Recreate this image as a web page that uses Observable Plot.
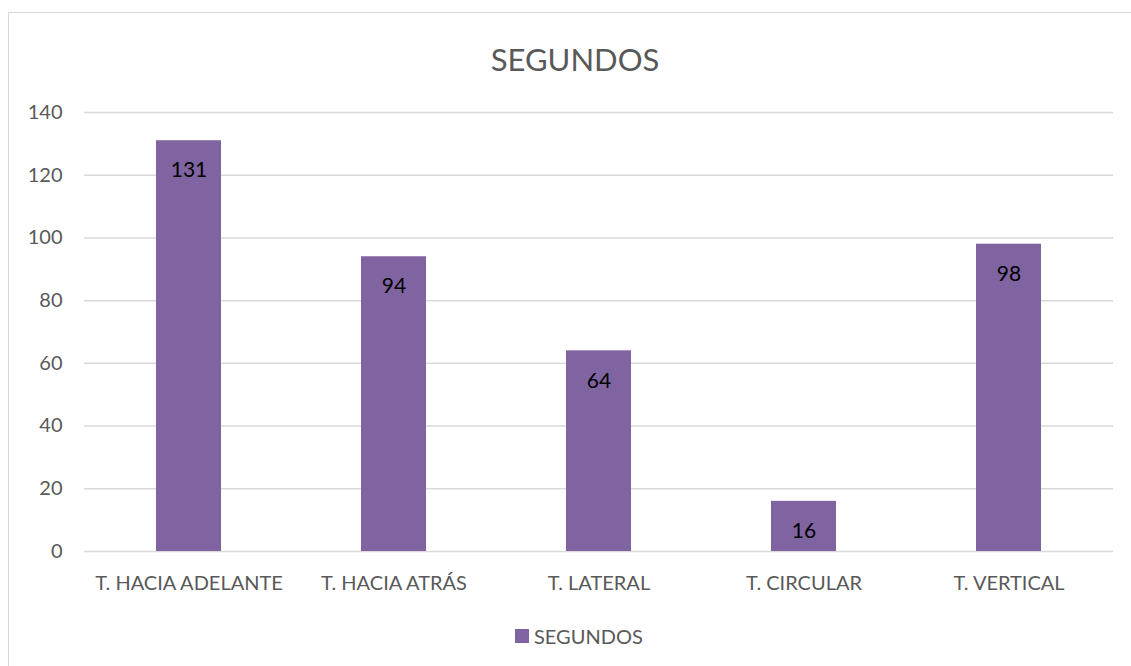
<!DOCTYPE html>
<html>
<head>
<meta charset="utf-8">
<script src="https://cdn.jsdelivr.net/npm/d3@7"></script>
<script src="https://cdn.jsdelivr.net/npm/@observablehq/plot@0.6"></script>
<style>
  html, body { margin: 0; padding: 0; background: #fff; }
  body { width: 1131px; height: 666px; position: relative; overflow: hidden; font-family: Lato, "Open Sans", sans-serif; }
  #frame { position: absolute; left: 8px; top: 12px; width: 1140px; height: 670px; border: 1px solid #d9d9d9; box-sizing: border-box; }
  #title { position: absolute; left: 0; width: 1150px; top: 39px; text-align: center; font-size: 31px; color: #595959; line-height: 40px; }
  #chart { position: absolute; left: 0; top: 90px; }
  #legend { position: absolute; left: 515px; top: 624px; font-size: 20px; line-height: 24px; color: #595959; display: flex; align-items: center; }
  #legend .sw { width: 14px; height: 14px; background: #8064A2; margin-right: 5px; }
</style>
</head>
<body>
<div id="frame"></div>
<div id="title">SEGUNDOS</div>
<div id="chart"></div>
<div id="legend"><span class="sw"></span><span>SEGUNDOS</span></div>
<script>
const categories = ["T. HACIA ADELANTE", "T. HACIA ATRÁS", "T. LATERAL", "T. CIRCULAR", "T. VERTICAL"];
const values = [131, 94, 64, 16, 98];
const yTicks = [0, 20, 40, 60, 80, 100, 120, 140];

const data = categories.map((c, i) => ({category: c, value: values[i]}));

const chart = Plot.plot({
  width: 1131,
  height: 520,
  marginTop: 22,
  marginBottom: 59,
  marginLeft: 84,
  marginRight: 18,
  style: {fontFamily: "Lato, 'Open Sans', sans-serif", background: "transparent"},
  x: {domain: categories, paddingInner: 0.685, paddingOuter: 0.3425, label: null},
  y: {domain: [0, 140], ticks: yTicks, label: null},
  marks: [
    Plot.gridY(yTicks, {stroke: "#d9d9d9", strokeOpacity: 1, strokeWidth: 1.5}),
    Plot.barY(data, {x: "category", y: "value", fill: "#8064A2"}),
    Plot.text(data, {x: "category", y: "value", text: d => String(d.value), dy: 30, fill: "#000", fontSize: 21}),
    Plot.axisX({tickSize: 0, tickPadding: 24, fontSize: 20, label: null}),
    Plot.axisY({ticks: yTicks, tickSize: 0, tickPadding: 22, fontSize: 20, label: null})
  ]
});
chart.querySelectorAll("g[aria-label$='tick label']").forEach(g => { g.setAttribute("fill", "#595959"); g.querySelectorAll("text").forEach(t => t.setAttribute("fill", "#595959")); });
document.getElementById("chart").appendChild(chart);
</script>
</body>
</html>
